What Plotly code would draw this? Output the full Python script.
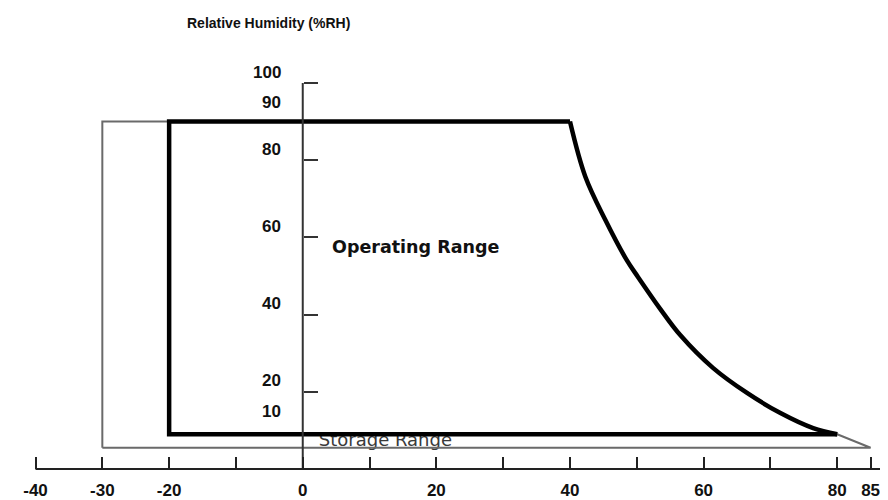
import plotly.graph_objects as go

# ---- data ----
x_tick_vals = [-40, -30, -20, -10, 0, 10, 20, 30, 40, 50, 60, 70, 80, 85]
x_tick_text = ["-40", "-30", "-20", "", "0", "", "20", "", "40", "", "60", "", "80", "85"]
y_tick_vals = [20, 40, 60, 80, 100]
y_label_vals = [100, 90, 80, 60, 40, 20, 10]

# operating range outline (temperature degC, relative humidity %)
op_box_t = [80, -20, -20, 40]
op_box_rh = [9, 9, 90, 90]
curve_t = [40, 42.3, 45.3, 48.5, 50.2, 53.5, 56.5, 61.4, 66.5, 71.5, 76.4, 80]
curve_rh = [90, 75.7, 64.5, 54.1, 49.7, 41.5, 34.7, 26.2, 19.7, 14.5, 10.6, 9]

# storage range outline
st_t = [-30, -30, 40]
st_rh = [5.5, 90, 90]
st_end_t = [80, 85, -30]
st_end_rh = [9, 5.5, 5.5]

# the page body adds an 8px offset, ranges are chosen so the drawing lands in place
X_RANGE = [-44.12, 88.8]
Y_RANGE = [-10.1, 119.43]

fig = go.Figure()

# storage label (under the lines)
fig.add_trace(go.Scatter(x=[2.4], y=[7.2], mode="text", text=["Storage Range"],
                         textposition="middle right",
                         textfont=dict(family="DejaVu Sans", size=18, color="#3a3a3a"),
                         hoverinfo="skip", showlegend=False))

# storage outline (thin grey)
fig.add_trace(go.Scatter(x=st_t, y=st_rh, mode="lines",
                         line=dict(color="#6a6a6a", width=2), showlegend=False))
fig.add_trace(go.Scatter(x=curve_t, y=curve_rh, mode="lines",
                         line=dict(color="#6a6a6a", width=2, shape="spline", smoothing=1.0),
                         showlegend=False))
fig.add_trace(go.Scatter(x=st_end_t, y=st_end_rh, mode="lines",
                         line=dict(color="#6a6a6a", width=2), showlegend=False))

# operating outline (thick black)
fig.add_trace(go.Scatter(x=op_box_t, y=op_box_rh, mode="lines",
                         line=dict(color="#000000", width=4.5), showlegend=False))
fig.add_trace(go.Scatter(x=curve_t, y=curve_rh, mode="lines",
                         line=dict(color="#000000", width=4.5, shape="spline", smoothing=1.0),
                         showlegend=False))

# axis lines
fig.add_trace(go.Scatter(x=[x_tick_vals[0], X_RANGE[1]], y=[0, 0], mode="lines",
                         line=dict(color="#222222", width=2), showlegend=False))
fig.add_trace(go.Scatter(x=[0, 0], y=[0, max(y_tick_vals)], mode="lines",
                         line=dict(color="#333333", width=2), showlegend=False))

x_pos = (0 - Y_RANGE[0]) / (Y_RANGE[1] - Y_RANGE[0])
y_pos = (0 - X_RANGE[0]) / (X_RANGE[1] - X_RANGE[0])

fig.update_layout(
    width=888, height=500,
    margin=dict(l=0, r=0, t=0, b=0),
    paper_bgcolor="white", plot_bgcolor="white",
    xaxis=dict(range=X_RANGE, anchor="free", position=x_pos, showgrid=False, zeroline=False,
               showline=False, ticks="inside", ticklen=12, tickwidth=2, tickcolor="#222222",
               tickmode="array", tickvals=x_tick_vals,
               ticktext=["<b>%s</b>" % t if t else "" for t in x_tick_text],
               ticklabelstandoff=9,
               tickfont=dict(family="Liberation Sans", size=17, color="#111111")),
    yaxis=dict(range=Y_RANGE, anchor="free", position=y_pos, showgrid=False, zeroline=False,
               showline=False, ticks="inside", ticklen=14, tickwidth=2, tickcolor="#333333",
               tickmode="array", tickvals=y_tick_vals, showticklabels=False),
)

# y labels (shifted above their levels as in the original)
y_shift = {90: 19, 10: 19}
for v in y_label_vals:
    fig.add_annotation(x=0, y=v, text="<b>%d</b>" % v, showarrow=False, xanchor="right",
                       yanchor="middle", xshift=-20, yshift=y_shift.get(v, 11),
                       font=dict(family="Liberation Sans", size=17, color="#111111"))

fig.add_annotation(x=4.1, y=57.5, text="<b>Operating Range</b>", showarrow=False,
                   xanchor="left", yanchor="middle",
                   font=dict(family="DejaVu Sans", size=17.5, color="#111111"))

fig.add_annotation(x=-17.6, y=115.6, text="<b>Relative Humidity (%RH)</b>", showarrow=False,
                   xanchor="left", yanchor="middle",
                   font=dict(family="Liberation Sans", size=14, color="#111111"))

fig.write_html("out.html")
